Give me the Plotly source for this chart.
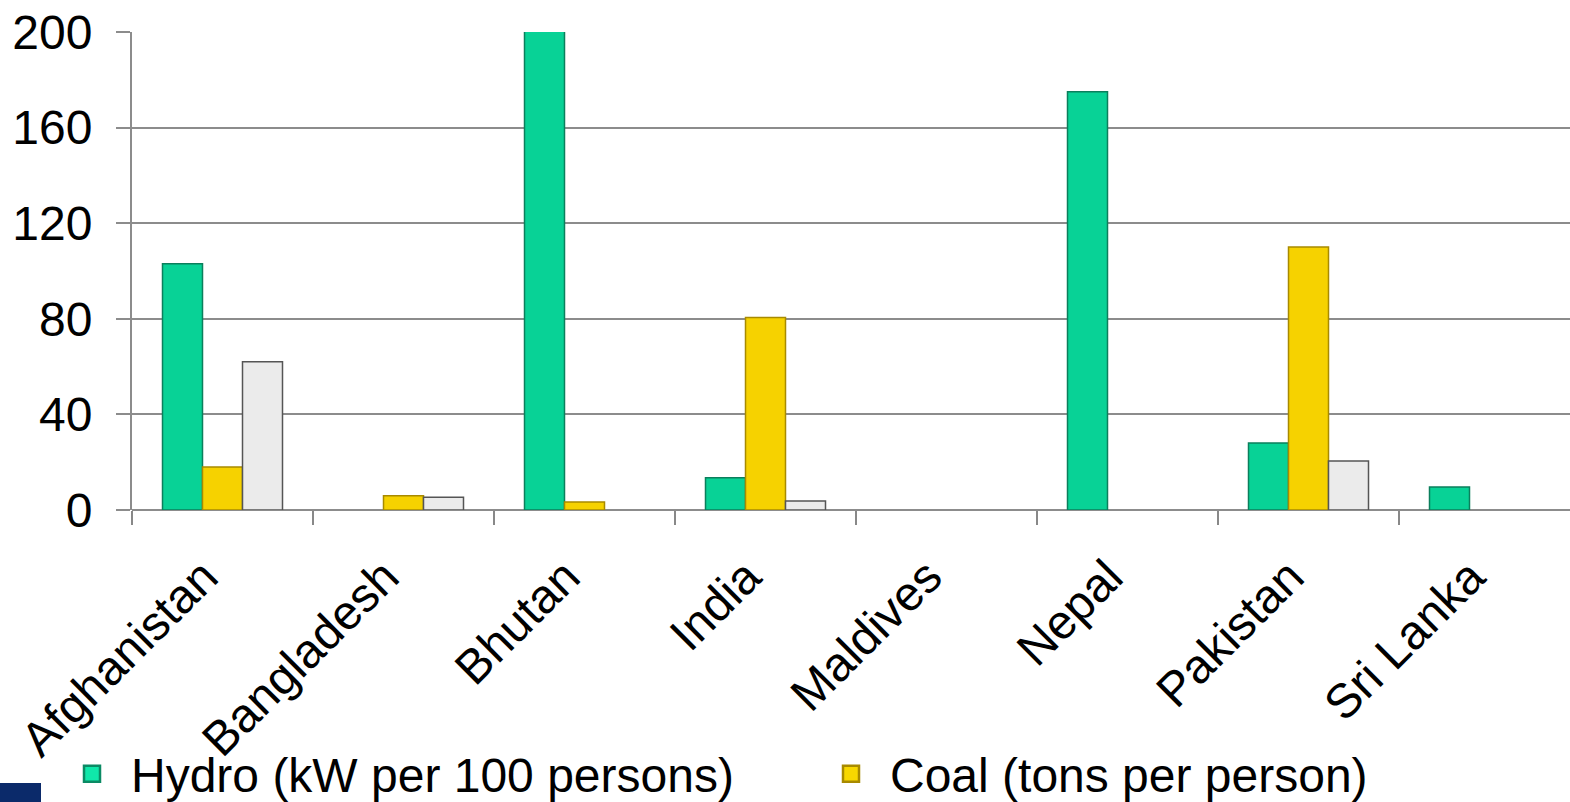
import plotly.graph_objects as go

countries = ["Afghanistan", "Bangladesh", "Bhutan", "India", "Maldives", "Nepal", "Pakistan", "Sri Lanka"]
hydro = [103, None, 260, 13.5, None, 175, 28, 9.6]
coal = [18, 6, 3.3, 80.5, None, None, 110, None]
other = [62, 5.3, None, 3.8, None, None, 20.5, None]

y_ticks = [0, 40, 80, 120, 160, 200]

W, H = 1570, 802
L, T, B = 132, 32, 292
plot_w = W - L
plot_h = H - T - B

FONT = "Liberation Sans, Arial, sans-serif"
FS = 48

fig = go.Figure()

fig.add_trace(go.Bar(x=countries, y=hydro, name="Hydro (kW per 100 persons)",
                     marker=dict(color="#08d296", line=dict(color="#0b7f5c", width=1.5)),
                     showlegend=False))
fig.add_trace(go.Bar(x=countries, y=coal, name="Coal (tons per person)",
                     marker=dict(color="#f6d200", line=dict(color="#a88a00", width=1.5)),
                     showlegend=False))
fig.add_trace(go.Bar(x=countries, y=other, name="other",
                     marker=dict(color="#ebebeb", line=dict(color="#555555", width=1.5)),
                     showlegend=False))

# legend entries with larger square swatches
for nm, col, edge in [("Hydro (kW per 100 persons)", "#10e8aa", "#0b8a64"),
                      ("Coal (tons per person)", "#f8d800", "#a88a00")]:
    fig.add_trace(go.Scatter(x=[None], y=[None], mode="markers", name=nm,
                             marker=dict(symbol="square", size=16, color=col,
                                         line=dict(color=edge, width=2.5))))

# trailing non-breaking spaces nudge the rotated labels down and to the left
tick_text = [c + "\u00a0\u00a0" for c in countries]

fig.update_layout(
    width=W, height=H,
    margin=dict(l=L, r=0, t=T, b=B, autoexpand=False),
    paper_bgcolor="white", plot_bgcolor="white",
    font=dict(family=FONT, size=FS, color="black"),
    barmode="group", bargap=0.337, bargroupgap=0,
    showlegend=True,
    legend=dict(orientation="h", x=(53 - L) / plot_w, xanchor="left",
                y=(510 - 812) / plot_h, yanchor="bottom",
                font=dict(size=FS, family=FONT), itemwidth=68,
                entrywidth=676, entrywidthmode="pixels", itemsizing="trace",
                itemclick=False, bgcolor="rgba(0,0,0,0)", tracegroupgap=0),
    xaxis=dict(range=[-0.5, -0.5 + plot_w / 181.0], showgrid=False,
               tickvals=countries, ticktext=tick_text,
               showline=False, ticks="outside", ticklen=14, tickcolor="#888888", tickwidth=2,
               tickson="boundaries", tickangle=-45, tickfont=dict(size=FS, family=FONT),
               ticklabelstandoff=9, zeroline=False),
    yaxis=dict(range=[0, 200], tickvals=y_ticks, showgrid=True, gridcolor="#8c8c8c", gridwidth=2,
               showline=True, linecolor="#8c8c8c", linewidth=2,
               ticks="outside", ticklen=14, tickcolor="#8c8c8c", tickwidth=2,
               zeroline=True, zerolinecolor="#8c8c8c", zerolinewidth=2,
               tickfont=dict(size=FS, family=FONT), ticklabelstandoff=14),
    shapes=[dict(type="rect", xref="paper", yref="paper",
                 x0=(0 - L) / plot_w, x1=(41 - L) / plot_w,
                 y0=(510 - 783) / plot_h, y1=(510 - 805) / plot_h,
                 fillcolor="#0b2a6a", line=dict(width=0), layer="above")],
)

fig.write_html("out.html")
